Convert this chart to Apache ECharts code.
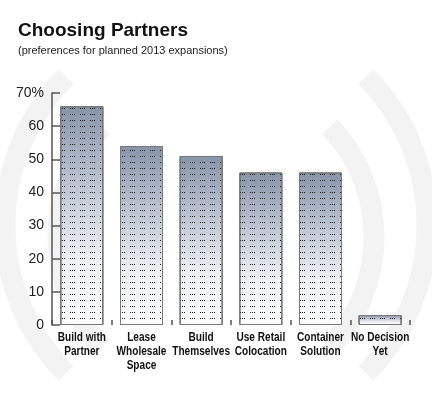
<!DOCTYPE html>
<html>
<head>
<meta charset="utf-8">
<script src="https://cdn.jsdelivr.net/npm/echarts@6/dist/echarts.min.js"></script>
<style>
html,body{margin:0;padding:0;background:#fff;}
#chart{width:432px;height:400px;}
</style>
</head>
<body>
<div id="chart"></div>
<script>
const titleText = 'Choosing Partners';
const subtitleText = '(preferences for planned 2013 expansions)';
const categories = ['Build with\nPartner', 'Lease\nWholesale\nSpace', 'Build\nThemselves', 'Use Retail\nColocation', 'Container\nSolution', 'No Decision\nYet'];
const values = [66, 54, 51, 46, 46, 3];
const yMin = 0, yMax = 70, yStep = 10;

const chart = echarts.init(document.getElementById('chart'), null, {renderer: 'canvas'});

const arcStyle = {stroke: '#f3f3f3', lineWidth: 21, fill: null};
const arcs = [
  {type: 'arc', z: 0, silent: true, shape: {cx: 216, cy: 225, r: 211, startAngle: -0.78, endAngle: 0.78}, style: arcStyle},
  {type: 'arc', z: 0, silent: true, shape: {cx: 216, cy: 225, r: 211, startAngle: Math.PI - 0.78, endAngle: Math.PI + 0.78}, style: arcStyle},
  {type: 'arc', z: 0, silent: true, shape: {cx: 214, cy: 237, r: 160, startAngle: -0.76, endAngle: 0.76}, style: arcStyle},
  {type: 'arc', z: 0, silent: true, shape: {cx: 218, cy: 237, r: 160, startAngle: Math.PI - 0.76, endAngle: Math.PI + 0.76}, style: arcStyle}
];

const option = {
  animation: false,
  backgroundColor: '#ffffff',
  title: [
    {text: titleText, left: 18, top: 21, padding: 0,
     textStyle: {fontFamily: "'Liberation Sans', Arial, sans-serif", fontWeight: 'bold', fontSize: 19, color: '#111'}},
    {text: subtitleText, left: 18, top: 45, padding: 0,
     textStyle: {fontFamily: "'Liberation Sans', Arial, sans-serif", fontWeight: 'normal', fontSize: 11, color: '#222'}}
  ],
  graphic: arcs,
  grid: {left: 52, right: 22, top: 93, bottom: 75, containLabel: false},
  xAxis: {
    type: 'category',
    data: categories,
    axisLine: {show: false},
    axisTick: {show: true, interval: 0, inside: true, length: 5, alignWithLabel: false, lineStyle: {color: '#555', width: 1.5}},
    axisLabel: {show: false, interval: 0},
    splitLine: {show: false}
  },
  yAxis: {
    type: 'value', min: yMin, max: yMax, interval: yStep,
    axisLine: {show: true, lineStyle: {color: '#555', width: 1.5}},
    axisTick: {show: true, inside: true, length: 8, lineStyle: {color: '#555', width: 1.5}},
    axisLabel: {
      margin: 8, color: '#222', fontSize: 14,
      fontFamily: "'Liberation Sans', Arial, sans-serif",
      formatter: v => v === yMax ? v + '%' : String(v)
    },
    splitLine: {show: false}
  },
  series: [{
    type: 'bar',
    data: values,
    barWidth: 43,
    z: 2,
    itemStyle: {
      color: new echarts.graphic.LinearGradient(0, 0, 0, 1, [
        {offset: 0, color: '#8894a9'},
        {offset: 0.35, color: '#bcc4d1'},
        {offset: 0.7, color: '#eef0f4'},
        {offset: 1, color: '#fcfcfd'}
      ]),
      borderColor: '#7a7a7a',
      borderWidth: 1,
      decal: {
        symbol: 'rect',
        symbolSize: 1,
        color: '#1a1a1a',
        dashArrayX: [1, 1, 1, 1, 1, 5],
        dashArrayY: [1, 4.5],
        rotation: 0
      }
    }
  }]
};
chart.setOption(option);

// Category labels placed through the axis scale, condensed horizontally
const labelEls = categories.map((name, i) => {
  const p = chart.convertToPixel({gridIndex: 0}, [i, yMin]);
  return {
    type: 'text', z: 10, silent: true,
    x: p[0], y: p[1] + 6, scaleX: 0.84,
    style: {
      text: name, align: 'center', verticalAlign: 'top',
      font: "bold 12px 'Liberation Sans', Arial, sans-serif",
      lineHeight: 14, fill: '#111'
    }
  };
});
chart.setOption({graphic: arcs.concat(labelEls)});
</script>
</body>
</html>
